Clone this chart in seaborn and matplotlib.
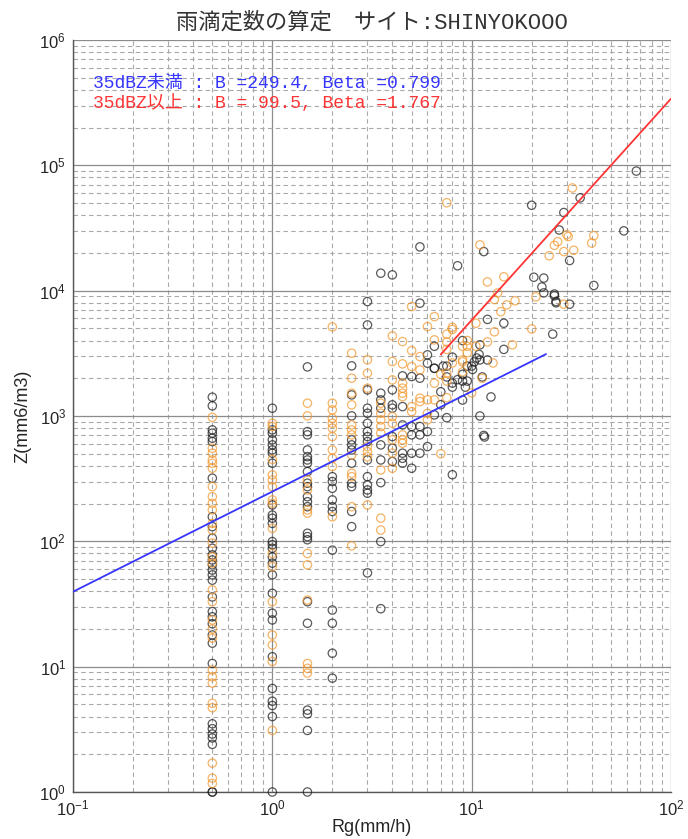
import numpy as np
import pandas as pd
import matplotlib
matplotlib.use("Agg")
import matplotlib.pyplot as plt
import seaborn as sns

# ---------------- data ----------------
title_text = "雨滴定数の算定　サイト:SHINYOKOOO"
xlabel_text = "Rg(mm/h)"
ylabel_text = "Z(mm6/m3)"
label_low = "35dBZ未満 : B =249.4, Beta =0.799"
label_high = "35dBZ以上 : B = 99.5, Beta =1.767"

B_low, beta_low = 249.4, 0.799
B_high, beta_high = 99.5, 1.767
R_low_line = [0.1, 23.6]
R_high_line = [7.0, 100.0]

# black points (R, Z)
black_R = (
    [0.5] * 31
    + [1.0] * 27
    + [1.5] * 22
    + [2.0] * 11
    + [2.5] * 11
    + [3.0] * 15
    + [3.5] * 9
    + [4.0] * 7
    + [4.5] * 6
    + [5.0] * 5
    + [5.5] * 6
    + [6.0] * 4
    + [6.5] * 1
    + [8.5, 11.5, 20, 20.5, 23, 22.5, 23, 26, 26.5, 12, 14.5, 25.5, 14.5, 11, 12, 11,
       11.3, 10, 10.1, 9.5, 9, 9, 8.5, 9.5, 9.3, 9, 12.5, 11, 11.5, 11.6, 8, 9, 6.5,
       8, 7.5, 6.5, 8, 8, 7, 7, 6.5, 7.5, 10.3, 10.6, 10.9, 7.2, 7.5,
       67, 35, 29, 27.5, 58, 31, 41, 26, 31, 26.5]
)
black_Z = (
    [1413, 1205, 775, 729, 665, 625, 319, 157, 131, 106, 88, 78, 71, 65, 59, 54, 49,
     36, 27.5, 25, 22, 17.9, 15.4, 10.6, 3.5, 3.2, 2.9, 2.7, 2.4, 1.0, 1.0]
    + [1154, 775, 729, 645, 588, 536, 505, 420, 195, 162, 153, 139, 99.6, 94, 88, 75,
       67, 54, 38.5, 26.7, 23.6, 12, 6.7, 5.3, 4.9, 4.0, 1.0]
    + [751, 707, 536, 474, 446, 420, 360, 291, 273, 227, 207, 189, 116, 109, 103, 33,
       22.2, 4.5, 4.2, 3.1, 1.0, 2465]
    + [328, 300, 265, 214, 189, 173, 85, 28.3, 22.2, 12.8, 8.1]
    + [2512, 1473, 1002, 645, 588, 536, 420, 291, 273, 173, 131]
    + [8190, 5330, 1616, 1154, 1052, 875, 751, 685, 625, 446, 328, 282, 257, 242, 56]
    + [13780, 1520, 1345, 1154, 588, 446, 294, 99.6, 29]
    + [13370, 1616, 1227, 1154, 685, 553, 433]
    + [2089, 1189, 849, 505, 460, 420]
    + [2064, 824, 707, 505, 383]
    + [7943, 2003, 824, 707, 505, 22350]
    + [3074, 2638, 751, 570]
    + [2405]
    + [15800, 20500, 48000, 12800, 12600, 10700, 9600, 9400, 8200, 5900, 5500, 4500,
       3400, 3700, 2800, 2800, 2050, 2500, 2350, 2500, 2150, 1900, 1950, 1900, 1700,
       1340, 1420, 1000, 700, 680, 340, 4000, 3600, 2950, 2500, 2400, 1830, 1700,
       1560, 1230, 1020, 970, 2700, 2900, 3100, 2500, 2050,
       90000, 55000, 42000, 30500, 30000, 17400, 11000, 9100, 7800, 8000]
)

# orange points (R, Z)
orange_R = (
    [0.5] * 28
    + [1.0] * 16
    + [1.5] * 12
    + [2.0] * 11
    + [2.5] * 12
    + [3.0] * 7
    + [3.5] * 8
    + [4.0] * 8
    + [4.5] * 9
    + [5.0] * 5
    + [5.5] * 4
    + [6.0] * 4
    + [6.5] * 4
    + [7.5, 11, 12, 14.5, 21, 13.5, 13, 15, 16.5, 14, 10.5, 13, 20, 12, 16, 12.8,
       11.3, 10, 7.0, 9.5, 9.5, 9.5, 9, 8, 8, 7.5, 7.5, 7.5, 8, 7, 7.5, 7.5, 9,
       7.5, 9, 9, 10.5,
       32, 30, 30.5, 27, 26, 41, 40, 32.5, 29, 24.5, 29]
)
orange_Z = (
    [977, 553, 505, 446, 420, 383, 273, 227, 201, 178, 139, 123, 97, 75, 67, 41, 33,
     23.6, 20, 16.9, 9.4, 8.3, 7.4, 5.1, 4.7, 1.7, 1.29, 1.17]
    + [875, 824, 339, 309, 273, 214, 201, 127, 80, 63, 33, 17.9, 14.9, 11, 3.1, 450]
    + [1265, 1002, 309, 257, 178, 168, 80, 65, 34, 10.6, 9.7, 8.9]
    + [1265, 1119, 960, 875, 800, 685, 536, 460, 395, 157, 5140]
    + [3170, 2003, 1520, 1227, 849, 775, 707, 489, 349, 328, 189, 92]
    + [2805, 2195, 1667, 570, 520, 474, 195]
    + [1265, 1052, 931, 824, 729, 371, 153, 123]
    + [4356, 2718, 1941, 989, 875, 645, 505, 383]
    + [3925, 2606, 1828, 1667, 1520, 1429, 707, 645, 607]
    + [7470, 3327, 2479, 1189, 1084]
    + [2979, 2333, 1387, 1303]
    + [5170, 1345, 931, 1050]
    + [6210, 4048, 1828, 1345]
    + [50300, 23200, 11750, 12900, 8930, 9600, 8500, 7700, 8300, 6800, 5500, 4700,
       4950, 3900, 3700, 2650, 2000, 1530, 500, 4000, 3600, 3200, 3600, 5100, 4900,
       4500, 3900, 3400, 2650, 2150, 2200, 1900, 2250, 1400, 2800, 2700, 3600,
       66000, 28000, 27000, 24600, 23000, 27500, 24000, 21000, 20500, 19000, 7800]
)

df_black = pd.DataFrame({"R": black_R, "Z": black_Z})
df_orange = pd.DataFrame({"R": orange_R, "Z": orange_Z})

# ---------------- style ----------------
sns.set_theme(style="white")
plt.rcParams["font.family"] = ["Liberation Sans", "Noto Sans CJK JP"]
plt.rcParams["axes.unicode_minus"] = False

fig = plt.figure(figsize=(6.88, 8.39), dpi=100)
ax = fig.add_axes([73 / 688, 47 / 839, 598 / 688, 752 / 839])

ax.set_xscale("log")
ax.set_yscale("log")
ax.set_xlim(0.1, 100)
ax.set_ylim(1, 1e6)

# grid
ax.set_axisbelow(True)
ax.grid(which="major", color="#8c8c8c", lw=0.9, ls="-")
ax.grid(which="minor", color="#a8a8a8", lw=0.8, ls=(0, (4, 3)))

# scatter
sns.scatterplot(data=df_black, x="R", y="Z", ax=ax, s=36, marker="o",
                facecolor="none", edgecolor="#1a1a1a", linewidth=0.9,
                alpha=0.72, clip_on=False, zorder=3)
sns.scatterplot(data=df_orange, x="R", y="Z", ax=ax, s=36, marker="o",
                facecolor="none", edgecolor="#f29526", linewidth=0.9,
                alpha=0.7, clip_on=False, zorder=3)

# fitted lines
Rl = np.array(R_low_line)
Rh = np.array(R_high_line)
sns.lineplot(x=Rl, y=B_low * Rl ** beta_low, ax=ax, color="#3535ff", lw=1.3, zorder=4)
sns.lineplot(x=Rh, y=B_high * Rh ** beta_high, ax=ax, color="#ff3535", lw=1.3, zorder=4)

# spines & ticks
for s in ["top", "right"]:
    ax.spines[s].set_visible(False)
for s in ["left", "bottom"]:
    ax.spines[s].set_color("#555555")
    ax.spines[s].set_linewidth(1.0)

ax.tick_params(axis="x", which="both", direction="in", length=8, width=0.8,
               color="#555555", labelsize=12, pad=5)
ax.tick_params(axis="y", which="both", direction="in", length=5, width=0.8,
               color="#555555", labelsize=12, pad=5)
ax.xaxis.set_major_locator(matplotlib.ticker.LogLocator(base=10, numticks=10))
ax.xaxis.set_minor_locator(matplotlib.ticker.LogLocator(base=10, subs=np.arange(2, 10), numticks=30))
ax.yaxis.set_major_locator(matplotlib.ticker.LogLocator(base=10, numticks=10))
ax.yaxis.set_minor_locator(matplotlib.ticker.LogLocator(base=10, subs=np.arange(2, 10), numticks=30))
ax.xaxis.set_minor_formatter(matplotlib.ticker.NullFormatter())
ax.yaxis.set_minor_formatter(matplotlib.ticker.NullFormatter())

ax.set_xlabel(xlabel_text, fontsize=13, labelpad=0)
ax.set_ylabel(ylabel_text, fontsize=13, labelpad=6)

mono = ["Liberation Mono", "Noto Sans CJK JP"]
ax.set_title(title_text, fontsize=16, color="#333333", pad=8, family=mono)

ax.text(0.033, 0.943, label_low, transform=ax.transAxes, color="#3535ff",
        fontsize=13, family=mono, va="center", ha="left")
ax.text(0.033, 0.916, label_high, transform=ax.transAxes, color="#ff3535",
        fontsize=13, family=mono, va="center", ha="left")

fig.savefig("out.png", dpi=100)
